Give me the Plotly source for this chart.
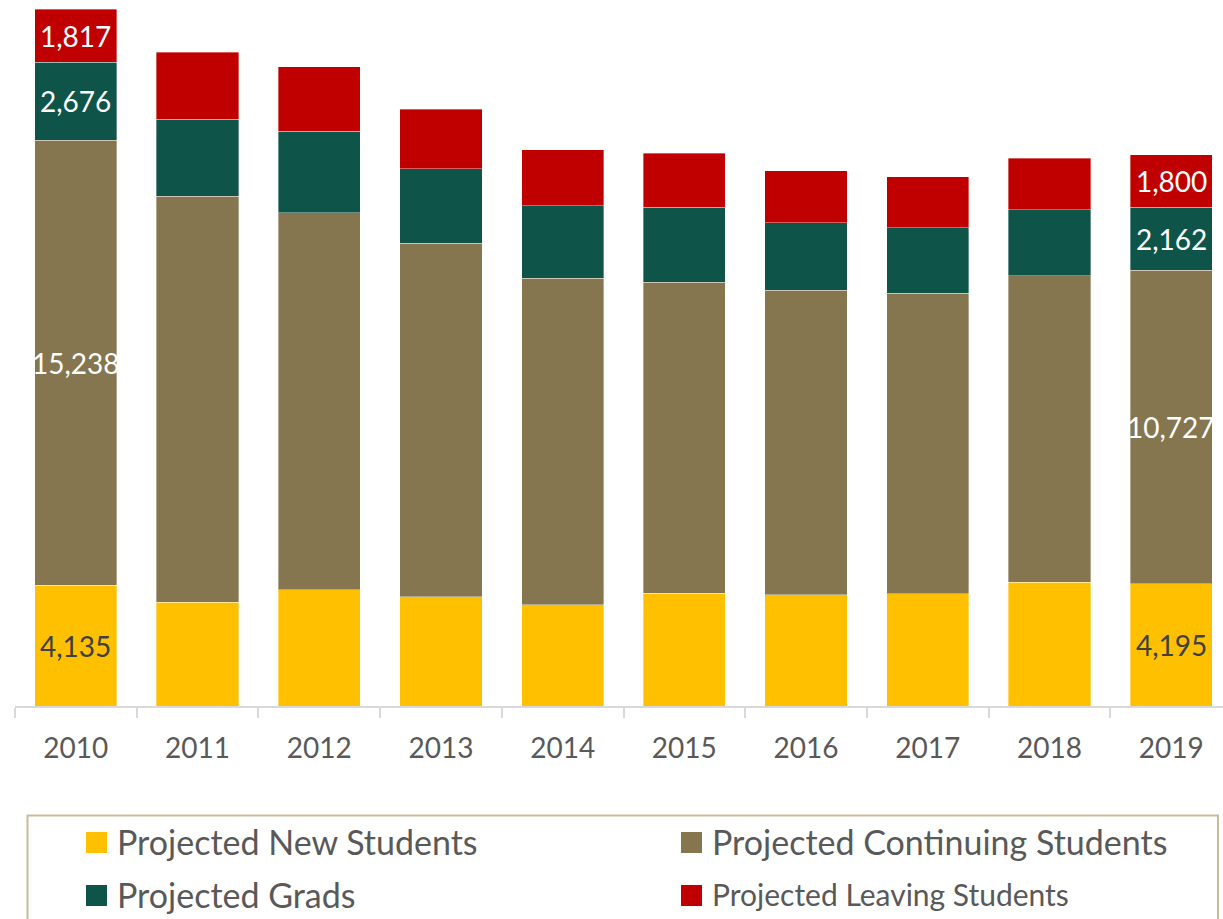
import plotly.graph_objects as go

# ---------------- data ----------------
years = ["2010", "2011", "2012", "2013", "2014", "2015", "2016", "2017", "2018", "2019"]
new_students = [4135, 3551, 3973, 3743, 3469, 3860, 3812, 3836, 4236, 4195]
continuing_students = [15238, 13914, 12921, 12103, 11178, 10651, 10425, 10308, 10500, 10727]
grads = [2676, 2627, 2788, 2545, 2486, 2568, 2315, 2236, 2260, 2162]
leaving_students = [1817, 2295, 2202, 2045, 1918, 1849, 1777, 1747, 1771, 1800]
series_names = [
    "Projected New Students",
    "Projected Continuing Students",
    "Projected Grads",
    "Projected Leaving Students",
]
labeled_years = ["2010", "2019"]

# ---------------- styles ----------------
colors = ["#FFC000", "#857650", "#0E5449", "#C00000"]
label_colors = ["#404040", "#FFFFFF", "#FFFFFF", "#FFFFFF"]
FONT = "Lato, 'Open Sans', sans-serif"
W, H = 1223, 919
PL, PT, PW, PH = 15, 0, 1208, 706  # plot area in pixels


def px(x):
    return (x - PL) / PW


def py(y):
    return (PT + PH - y) / PH


series = [new_students, continuing_students, grads, leaving_students]

fig = go.Figure()
for name, vals, col in zip(series_names, series, colors):
    fig.add_trace(go.Bar(
        x=years, y=vals, name=name,
        marker=dict(color=col, line=dict(color="rgba(255,255,255,0.45)", width=0.8)),
        showlegend=False, hoverinfo="x+y+name",
    ))

# data labels (first and last year) - category axis positions use the category index
annotations = []
for i, yr in enumerate(years):
    if yr not in labeled_years:
        continue
    base = 0
    for s_idx, vals in enumerate(series):
        v = vals[i]
        annotations.append(dict(
            x=i, y=base + v / 2, xref="x", yref="y",
            text=f"{v:,}", showarrow=False,
            font=dict(family=FONT, size=28, color=label_colors[s_idx]),
            xanchor="center", yanchor="middle",
        ))
        base += v

# manual legend
shapes = [dict(
    type="rect", xref="paper", yref="paper",
    x0=px(27.5), x1=px(1218), y0=py(815.5), y1=py(980),
    line=dict(color="#C9BC9C", width=2), fillcolor="rgba(0,0,0,0)", layer="above",
)]
legend_pos = [(86, 832), (681, 832), (86, 885), (681, 885)]
legend_sizes = [34, 34, 34, 30]
for (lx, ly), name, col, fs in zip(legend_pos, series_names, colors, legend_sizes):
    shapes.append(dict(
        type="rect", xref="paper", yref="paper",
        x0=px(lx), x1=px(lx + 21), y0=py(ly), y1=py(ly + 21),
        line=dict(width=0), fillcolor=col, layer="above",
    ))
    annotations.append(dict(
        x=px(lx + 29), y=py(ly + 9), xref="paper", yref="paper",
        text=name, showarrow=False, xanchor="left", yanchor="middle",
        font=dict(family=FONT, size=fs, color="#595959"),
    ))

fig.update_layout(
    width=W, height=H,
    margin=dict(l=PL, r=W - PL - PW, t=PT, b=H - PT - PH, autoexpand=False),
    barmode="stack", bargap=0.324,
    paper_bgcolor="white", plot_bgcolor="white",
    showlegend=False,
    annotations=annotations, shapes=shapes,
    font=dict(family=FONT, color="#595959"),
    xaxis=dict(
        type="category", range=[-0.5, -0.5 + PW / 121.7],
        showline=True, linecolor="#D9D9D9", linewidth=2,
        ticks="outside", tickson="boundaries", ticklen=10, tickwidth=2, tickcolor="#D9D9D9",
        tickfont=dict(family=FONT, size=28, color="#595959"),
        ticklabelstandoff=16,
        showgrid=False, zeroline=False, fixedrange=True,
    ),
    yaxis=dict(visible=False, range=[0, PH / 0.0292], showgrid=False, zeroline=False, fixedrange=True),
)

fig.write_html(
    "out.html",
    config={"displayModeBar": False},
    post_script="document.body.style.margin='0px';",
)
